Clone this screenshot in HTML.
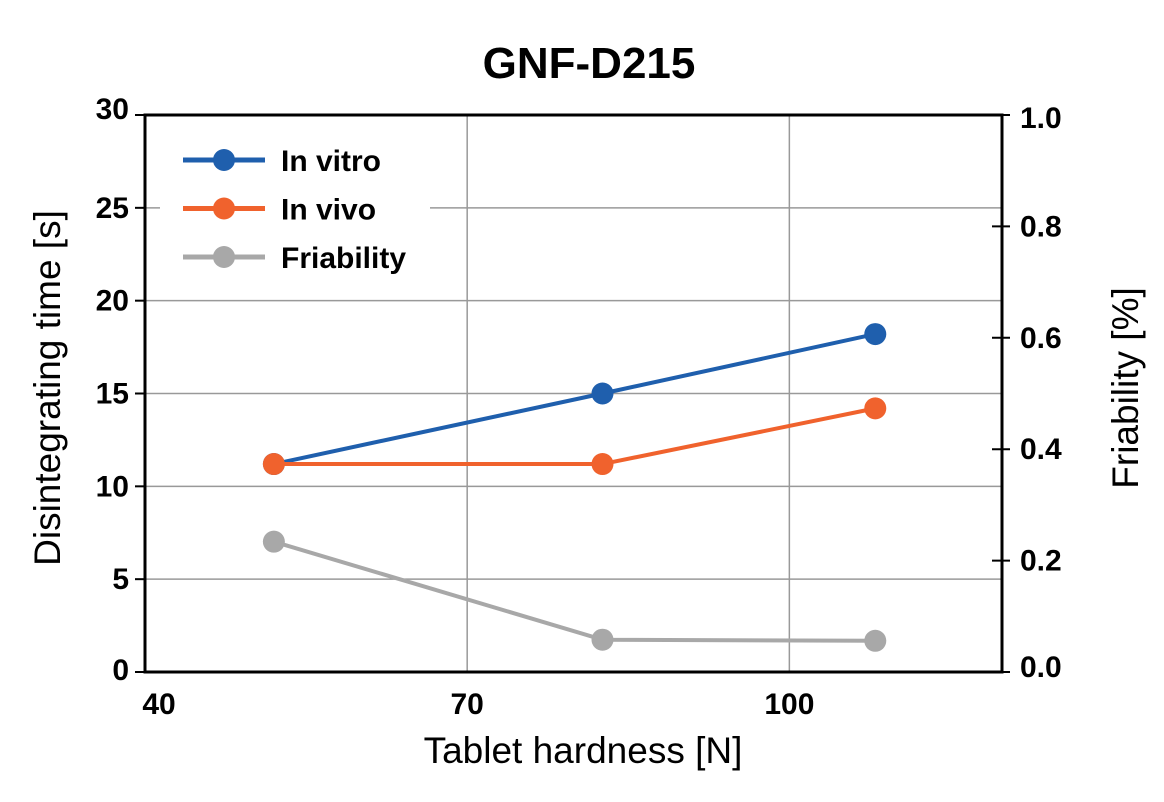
<!DOCTYPE html>
<html><head><meta charset="utf-8"><style>
html,body{margin:0;padding:0;background:#fff;}
svg{display:block;font-family:"Liberation Sans",sans-serif;}
</style></head><body>
<svg id="chart" width="1164" height="802">
<text x="589" y="78" text-anchor="middle" font-size="44" font-weight="bold">GNF-D215</text>
<g id="grid"></g>
<g id="axes"></g>
<g id="series"></g>
<rect x="160" y="130" width="270" height="150" fill="#fff"/>
<g id="legend"></g>
<text x="583" y="763" text-anchor="middle" font-size="37">Tablet hardness [N]</text>
<text transform="translate(60,388) rotate(-90)" text-anchor="middle" font-size="37">Disintegrating time [s]</text>
<text transform="translate(1138,388) rotate(-90)" text-anchor="middle" font-size="37">Friability [%]</text>
<rect x="145" y="115" width="857" height="557" fill="none" stroke="#000" stroke-width="3"/>
</svg>
<script>
const xTicks=[40,70,100];
const yTicks=[0,5,10,15,20,25,30];
const y2Ticks=[0.0,0.2,0.4,0.6,0.8,1.0];
const hardness=[52,82.6,108];
const inVitro=[11.2,15.0,18.2];
const inVivo=[11.2,11.2,14.2];
const friability=[0.234,0.058,0.056];
const L=145,R=1002,T=115,B=672;
const X0=40,X1=119.8;
const xs=v=>L+(v-X0)/(X1-X0)*(R-L);
const ys=v=>B-v/30*(B-T);
const y2s=v=>B-v/1.0*(B-T);
const NS="http://www.w3.org/2000/svg";
function mk(p,t,a){const e=document.createElementNS(NS,t);for(const k in a)e.setAttribute(k,a[k]);p.appendChild(e);return e;}
const grid=document.getElementById('grid'),axes=document.getElementById('axes'),ser=document.getElementById('series'),leg=document.getElementById('legend');
xTicks.forEach(v=>{const x=xs(v);
 if(v>X0){const g=mk(grid,'line',{x1:x,x2:x,y1:T,y2:B,stroke:'#999','stroke-width':1.5});
 }
 const t=mk(axes,'text',{x:x+(v==40?14:0),y:714,'text-anchor':'middle','font-size':30,'font-weight':'bold'});t.textContent=v;
 });
yTicks.forEach(v=>{const y=ys(v);
 if(v>0&&v<30){const g=mk(grid,'line',{x1:L,x2:R,y1:y,y2:y,stroke:'#999','stroke-width':1.5});
 }
 const k=mk(axes,'line',{x1:L-10,x2:L,y1:y,y2:y,stroke:'#000','stroke-width':2});
 
 const t=mk(axes,'text',{x:L-16,y:y+10+(v==30?-6:0)+(v==0?-2:0),'text-anchor':'end','font-size':30,'font-weight':'bold'});t.textContent=v;
 });
y2Ticks.forEach(v=>{const y=y2s(v);
 const k=mk(axes,'line',{x1:R-10,x2:R+8,y1:y,y2:y,stroke:'#000','stroke-width':2});
 
 const t=mk(axes,'text',{x:R+18,y:y+10+(v==1?3:0)+(v==0?-5:0),'font-size':30,'font-weight':'bold'});t.textContent=v.toFixed(1);
 });
const series=[{n:'In vitro',c:'#1f5fad',d:inVitro,s:ys,id:'in-vitro'},{n:'In vivo',c:'#f0622d',d:inVivo,s:ys,id:'in-vivo'},{n:'Friability',c:'#a8a8a8',d:friability,s:y2s,id:'friability'}];
series.forEach((S,i)=>{
 const pts=S.d.map((v,j)=>xs(hardness[j])+','+S.s(v)).join(' ');
 const pl=mk(ser,'polyline',{points:pts,fill:'none',stroke:S.c,'stroke-width':4});
 
 S.d.forEach((v,j)=>{const c=mk(ser,'circle',{cx:xs(hardness[j]),cy:S.s(v),r:11,fill:S.c});
  });
 const y=160+i*48.5;
 const l=mk(leg,'line',{x1:183,x2:265,y1:y,y2:y,stroke:S.c,'stroke-width':5});
 
 const c=mk(leg,'circle',{cx:224,cy:y,r:11,fill:S.c});
 
 const t=mk(leg,'text',{x:281,y:y+11,'font-size':30,'font-weight':'bold'});t.textContent=S.n;
 
});
</script>
</body></html>
